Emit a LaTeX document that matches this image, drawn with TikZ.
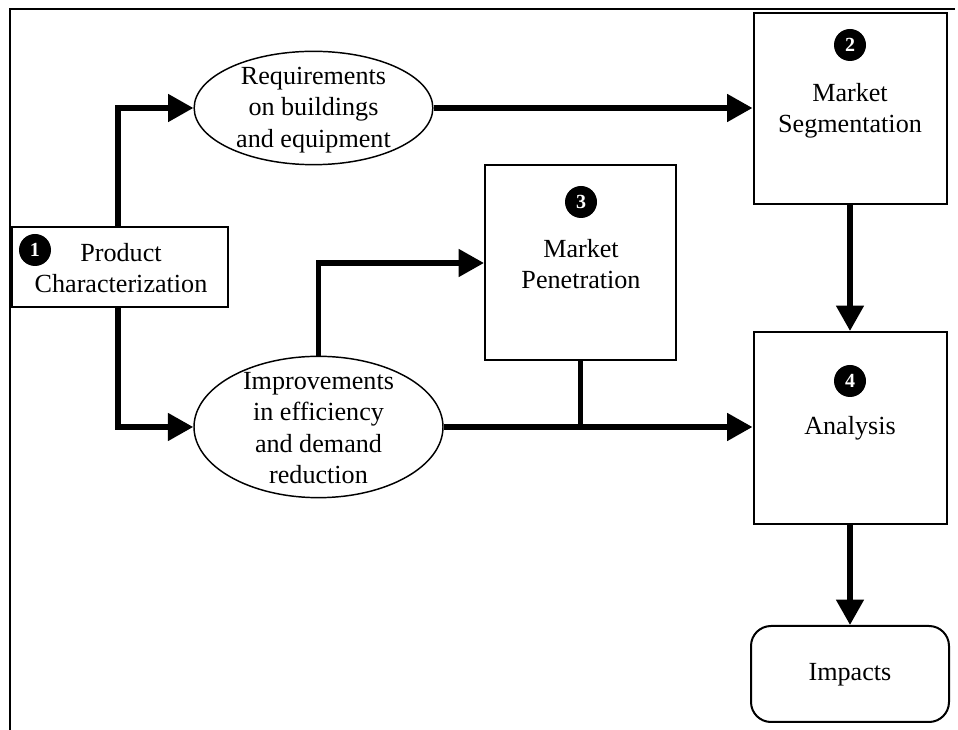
\documentclass[tikz,border=0pt]{standalone}
\usepackage{fontspec}
\setmainfont{Liberation Serif}
\usetikzlibrary{arrows.meta,shapes.geometric}
\begin{document}
\begin{tikzpicture}[x=0.75pt,y=-0.75pt,
  boxnode/.style={draw,line width=1.5pt,rectangle,inner sep=0pt},
  ellnode/.style={draw,line width=1.1pt,ellipse,inner sep=0pt},
  lbl/.style={align=center,inner sep=0pt,font=\fontsize{19.6}{23.6}\selectfont},
  numc/.style={circle,fill=black,text=white,inner sep=0pt,minimum size=24pt,font=\bfseries\fontsize{15}{15}\selectfont},
  arr/.style={line width=4.2pt,-{Triangle[length=19pt,width=20pt]}},
  link/.style={line width=4.2pt}]
\useasboundingbox (0,0) rectangle (958,730);
% frame
\draw[line width=2pt] (10,730) -- (10,9) -- (955,9);
% boxes
\node[boxnode,minimum width=162pt,minimum height=60pt] (box1) at (120,267) {};
\node[boxnode,minimum width=144.75pt,minimum height=143.25pt] (box2) at (850,108.5) {};
\node[boxnode,minimum width=143.25pt,minimum height=146.25pt] (box3) at (580.5,262.5) {};
\node[boxnode,minimum width=144.75pt,minimum height=144pt] (box4) at (850,428) {};
\node[boxnode,rounded corners=15pt,minimum width=148.5pt,minimum height=72pt] (imp) at (850,674) {};
% ellipses
\node[ellnode,minimum width=179pt,minimum height=85pt] (ell1) at (313.5,108) {};
\node[ellnode,minimum width=186.75pt,minimum height=106pt] (ell2) at (318.5,427) {};
% numbers
\node[numc] (n1) at (35,250) {1};
\node[numc] (n2) at (850,45) {2};
\node[numc] (n3) at (581,202) {3};
\node[numc] (n4) at (850,381) {4};
% labels
\node[lbl] (t1) at (121,268) {Product\\Characterization};
\node[lbl] (t2) at (850,111) {Market\\Segmentation};
\node[lbl] (t3) at (581,264) {Market\\Penetration};
\node[lbl] (t4) at (850,428) {Analysis};
\node[lbl] (t5) at (850,675) {Impacts};
\node[lbl] (te1) at (313.5,110) {Requirements\\on buildings\\and equipment};
\node[lbl] (te2) at (318.5,428) {Improvements\\in efficiency\\and demand\\reduction};
% connectors
\coordinate (v1) at (118,0);
\coordinate (h3) at (0,263);
\draw[arr] (box1.north -| v1) |- (ell1.west);
\draw[arr] (box1.south -| v1) |- (ell2.west);
\draw[arr] (ell1.east) -- (box2.west |- ell1.east);
\draw[arr] (ell2.north) |- (box3.west |- h3);
\draw[arr] (ell2.east) -- (box4.west |- ell2.east);
\draw[link] (box3.south) -- (box3.south |- ell2.east);
\draw[arr] (box2.south) -- (box4.north);
\draw[arr] (box4.south) -- (imp.north);
\end{tikzpicture}
\end{document}
